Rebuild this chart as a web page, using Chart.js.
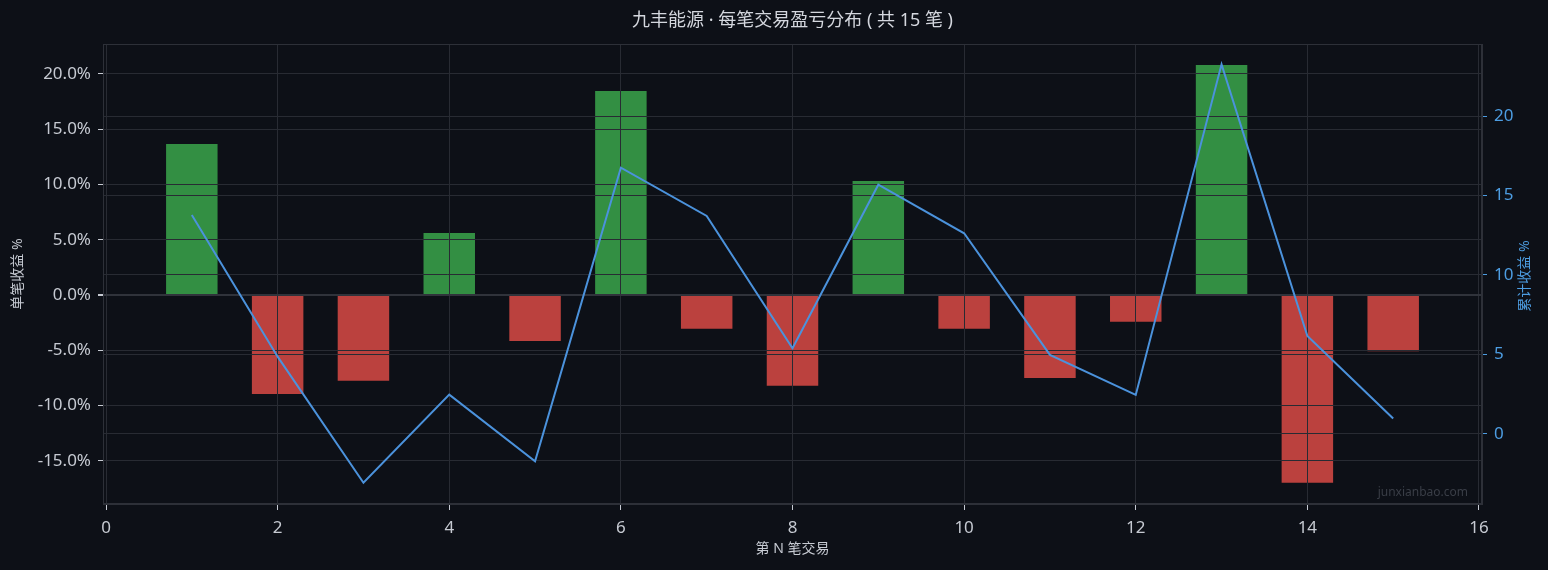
<!DOCTYPE html>
<html>
<head>
<meta charset="utf-8">
<script src="https://cdn.jsdelivr.net/npm/chart.js@4"></script>
<style>
  html, body { margin: 0; padding: 0; background: #0d1017; }
  #wrap { width: 1548px; height: 570px; }
</style>
</head>
<body>
<div id="wrap"><canvas id="c" width="1548" height="570"></canvas></div>
<script>
// ---- data ----
const tradeNo = [1, 2, 3, 4, 5, 6, 7, 8, 9, 10, 11, 12, 13, 14, 15];
const singleReturnPct = [13.67, -8.96, -7.75, 5.61, -4.16, 18.46, -3.05, -8.20, 10.32, -3.05, -7.50, -2.42, 20.81, -16.99, -5.09];
const cumulativeReturnPct = [13.77, 4.85, -3.09, 2.46, -1.74, 16.75, 13.71, 5.38, 15.68, 12.62, 4.96, 2.44, 23.26, 6.15, 0.95];

const titleText = '九丰能源 · 每笔交易盈亏分布 ( 共 15 笔 )';
const xAxisTitle = '第 N 笔交易';
const leftAxisTitle = '单笔收益 %';
const rightAxisTitle = '累计收益 %';
const watermarkText = 'junxianbao.com';

// ---- styles ----
const FONT = "'Noto Sans', 'Noto Sans CJK SC', sans-serif";
const BG = '#0d1017';
const GRID = '#282b33';
const SPINE = '#2d3038';
const TEXT = '#c6cad2';
const BLUE = '#4b92dc';
const BLUE_TXT = '#4d9de2';
const GREEN = '#338f43';
const RED = '#bb413e';

const barPoints = tradeNo.map((n, i) => ({ x: n, y: singleReturnPct[i] }));
const linePoints = tradeNo.map((n, i) => ({ x: n, y: cumulativeReturnPct[i] }));

const overlay = {
  id: 'overlay',
  beforeDraw(chart) {
    const ctx = chart.ctx;
    ctx.save();
    ctx.fillStyle = BG;
    ctx.fillRect(0, 0, chart.width, chart.height);
    ctx.restore();
  },
  afterDatasetDraw(chart, args) {
    if (args.index !== 0) return;
    // grid lines sit on top of the bars (as in the reference)
    ['x', 'y', 'y2'].forEach(id => chart.scales[id].drawGrid(chart.chartArea));
    const a = chart.chartArea, ctx = chart.ctx;
    ctx.save();
    ctx.strokeStyle = SPINE;
    ctx.lineWidth = 1;
    ctx.strokeRect(a.left + 0.5, a.top + 0.5, a.right - a.left - 1, a.bottom - a.top - 1);
    ctx.restore();
  },
  afterDraw(chart) {
    const ctx = chart.ctx, a = chart.chartArea, s = chart.scales.y2;
    ctx.save();
    // right axis title (reads bottom-to-top)
    ctx.font = '14px ' + FONT;
    ctx.fillStyle = BLUE_TXT;
    ctx.textAlign = 'center';
    ctx.textBaseline = 'middle';
    ctx.translate(s.right - 23, (a.top + a.bottom) / 2 + 2);
    ctx.rotate(-Math.PI / 2);
    ctx.fillText(rightAxisTitle, 0, 0);
    ctx.restore();
    // watermark
    ctx.save();
    ctx.font = '12px ' + FONT;
    ctx.fillStyle = '#3a3e47';
    ctx.textAlign = 'right';
    ctx.textBaseline = 'middle';
    ctx.fillText(watermarkText, a.right - 14, a.bottom - 11);
    ctx.restore();
  }
};

new Chart(document.getElementById('c'), {
  data: {
    datasets: [
      {
        type: 'bar',
        data: barPoints,
        xAxisID: 'x',
        yAxisID: 'y',
        order: 1,
        backgroundColor: (c) => (c.raw && c.raw.y >= 0 ? GREEN : RED),
        borderWidth: 0,
        categoryPercentage: 0.6,
        barPercentage: 1.0
      },
      {
        type: 'line',
        data: linePoints,
        xAxisID: 'x',
        yAxisID: 'y2',
        order: 0,
        borderColor: BLUE,
        borderWidth: 2,
        pointRadius: 0,
        tension: 0,
        fill: false
      }
    ]
  },
  options: {
    responsive: false,
    animation: false,
    devicePixelRatio: 1,
    layout: { padding: 0 },
    plugins: {
      legend: { display: false },
      tooltip: { enabled: false },
      title: {
        display: true,
        text: titleText,
        fullSize: false,
        color: '#d4d7de',
        font: { family: FONT, size: 18, weight: 'normal' },
        padding: { top: 10, bottom: 12.4 }
      }
    },
    scales: {
      x: {
        type: 'linear',
        position: 'bottom',
        offset: false,
        min: -0.035,
        max: 16.035,
        ticks: {
          stepSize: 2,
          includeBounds: false,
          color: TEXT,
          font: { family: FONT, size: 17 },
          padding: 8,
          maxRotation: 0,
          callback: (v) => String(v)
        },
        grid: { offset: false, color: GRID, lineWidth: 1, tickColor: TEXT, tickLength: 6, drawOnChartArea: true },
        border: { display: true, color: SPINE },
        title: {
          display: true,
          text: xAxisTitle,
          color: TEXT,
          font: { family: FONT, size: 14 },
          padding: { top: 0, bottom: 12.6 }
        },
        afterFit: (s) => { s.height = 66; }
      },
      y: {
        type: 'linear',
        position: 'left',
        min: -18.91,
        max: 22.71,
        ticks: {
          stepSize: 5,
          includeBounds: false,
          color: TEXT,
          font: { family: FONT, size: 17 },
          padding: 7,
          callback: (v) => v.toFixed(1) + '%'
        },
        grid: {
          color: (c) => (c.tick && c.tick.value === 0 ? '#30333b' : GRID),
          lineWidth: (c) => (c.tick && c.tick.value === 0 ? 2 : 1),
          tickColor: TEXT,
          tickLength: 5
        },
        border: { display: true, color: SPINE },
        title: {
          display: true,
          text: leftAxisTitle,
          color: TEXT,
          font: { family: FONT, size: 14 },
          padding: { top: 9.6, bottom: 0 }
        },
        afterFit: (s) => { s.width = 103; }
      },
      y2: {
        type: 'linear',
        position: 'right',
        min: -4.43,
        max: 24.54,
        ticks: {
          stepSize: 5,
          includeBounds: false,
          color: BLUE_TXT,
          font: { family: FONT, size: 17 },
          padding: 7,
          callback: (v) => String(v)
        },
        grid: { color: GRID, lineWidth: 1, tickColor: BLUE_TXT, tickLength: 5, drawOnChartArea: true },
        border: { display: true, color: SPINE },
        title: { display: false, text: rightAxisTitle },
        afterFit: (s) => { s.width = 66; }
      }
    }
  },
  plugins: [overlay]
});
</script>
</body>
</html>
